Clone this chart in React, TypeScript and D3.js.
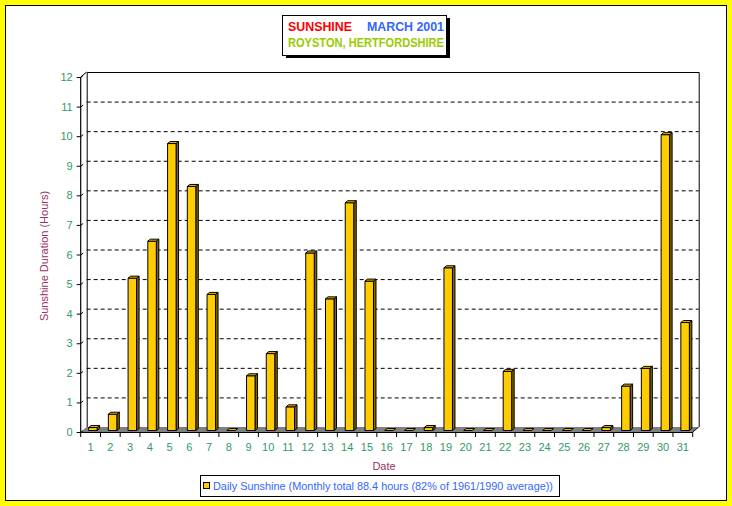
import React from "react";
import * as d3 from "d3";

const days = ["1","2","3","4","5","6","7","8","9","10","11","12","13","14","15","16","17","18","19","20","21","22","23","24","25","26","27","28","29","30","31"];
const sunshine = [0.1,0.55,5.15,6.4,9.7,8.25,4.6,0,1.85,2.6,0.8,6.0,4.45,7.7,5.05,0,0,0.1,5.5,0,0,2.0,0,0,0,0,0.1,1.5,2.1,10.0,3.65];
const yTicks = [0,1,2,3,4,5,6,7,8,9,10,11,12];
const titleLeft = "SUNSHINE";
const titleRight = "MARCH 2001";
const subtitle = "ROYSTON, HERTFORDSHIRE";
const yTitle = "Sunshine Duration (Hours)";
const xTitle = "Date";
const legendLabel = "Daily Sunshine (Monthly total 88.4 hours (82% of 1961/1990 average))";

const W = 732, H = 506;
const DX = 6, DY = 5; // wall depth
const FONT = "'Liberation Sans', Arial, sans-serif";

export default function App() {
  const x = d3.scaleBand<string>().domain(days).range([80.7, 692.7]);
  const y = d3.scaleLinear().domain([0, 12]).range([432, 77]);
  const x0 = x.range()[0], x1 = x.range()[1];
  const y0 = y(0), yT = y(12);

  const floor = `M${x0},${y0} L${x0 + DX},${y0 - DY} L${x1 + DX},${y0 - DY} L${x1},${y0} Z`;

  const bars = days.map((d, i) => {
    const v = sunshine[i];
    const l = (x(d) as number) + 6.4 + 1.5;
    const w = 8.5;
    const b = y(0) - 1.5;
    const t = y(v) - 1.5;
    const ddx = 2.5, ddy = 2;
    const front = `M${l},${t} L${l + w},${t} L${l + w},${b} L${l},${b} Z`;
    const side = `M${l + w},${t} L${l + w + ddx},${t - ddy} L${l + w + ddx},${b - ddy} L${l + w},${b} Z`;
    const top = `M${l},${t} L${l + ddx},${t - ddy} L${l + w + ddx},${t - ddy} L${l + w},${t} Z`;
    return (
      <g key={d}>
        {v > 0 && <path d={side} fill="#806600" stroke="#000" strokeWidth={1} />}
        {v > 0 && <path d={front} fill="#FFCC00" stroke="#000" strokeWidth={1} />}
        <path d={top} fill="#E6B800" stroke="#000" strokeWidth={1} />
      </g>
    );
  });

  return (
    <svg width={W} height={H} style={{ position: "absolute", left: 0, top: 0 }} fontFamily={FONT}>
      <rect x={0} y={0} width={W} height={H} fill="#FFFF00" />
      <rect x={5.5} y={5.5} width={721} height={495} fill="#FFFFFF" stroke="#000" strokeWidth={1} />

      {/* back wall gridlines */}
      {yTicks.filter(t => t > 0 && t < 12).map(t => (
        <line key={"g" + t} x1={x0 + DX} x2={x1 + DX} y1={y(t) - DY + 0.5} y2={y(t) - DY + 0.5}
          stroke="#000" strokeWidth={1} strokeDasharray="4,3" />
      ))}
      {/* floor */}
      <path d={floor} fill="#808080" stroke="none" />
      {/* walls outline */}
      <path d={`M${x0 + DX + 0.5},${y0 - DY} L${x0 + DX + 0.5},${yT - DY + 0.5} L${x1 + DX + 0.5},${yT - DY + 0.5} L${x1 + DX + 0.5},${y0 - DY}`}
        fill="none" stroke="#000" strokeWidth={1} />
      <line x1={x0} y1={yT} x2={x0 + DX} y2={yT - DY} stroke="#000" strokeWidth={1} />
      <line x1={x1} y1={y0} x2={x1 + DX} y2={y0 - DY} stroke="#000" strokeWidth={1} />
      {/* y axis */}
      <line x1={x0} x2={x0} y1={yT} y2={y0} stroke="#000" strokeWidth={1.2} />
      {yTicks.map(t => (
        <g key={"y" + t}>
          <line x1={x0 - 4} x2={x0} y1={y(t) + 0.5} y2={y(t) + 0.5} stroke="#000" strokeWidth={1} />
          <line x1={x0} x2={x0 + 2.5} y1={y(t) + 0.5} y2={y(t) - 1.5} stroke="#000" strokeWidth={1} />
          <text x={x0 - 8} y={y(t) + 4} textAnchor="end" fontSize={11} fill="#339966">{t}</text>
        </g>
      ))}
      {/* x axis */}
      <line x1={x0} x2={x1} y1={y0 + 0.5} y2={y0 + 0.5} stroke="#000" strokeWidth={1} />
      {[...days.map(d => x(d) as number), x1].map((p, i) => (
        <line key={"xt" + i} x1={p} x2={p} y1={y0} y2={y0 + 5} stroke="#000" strokeWidth={1} />
      ))}
      {days.map(d => (
        <text key={"xl" + d} x={(x(d) as number) + x.bandwidth() / 2} y={y0 + 19} textAnchor="middle" fontSize={11} fill="#339966">{d}</text>
      ))}

      {bars}

      {/* axis titles */}
      <text x={384} y={470} textAnchor="middle" fontSize={11} fill="#993366">{xTitle}</text>
      <text transform={`translate(48,256) rotate(-90)`} textAnchor="middle" fontSize={11} fill="#993366">{yTitle}</text>

      {/* title box */}
      <rect x={286} y={18} width={164} height={40} fill="#000" />
      <rect x={282.5} y={15.5} width={164} height={40} fill="#fff" stroke="#000" strokeWidth={1} />
      <text x={288} y={31} fontSize={12} fontWeight="bold" fill="#FF0000" textLength={64} lengthAdjust="spacingAndGlyphs">{titleLeft}</text>
      <text x={367} y={31} fontSize={12} fontWeight="bold" fill="#3366FF" textLength={77} lengthAdjust="spacingAndGlyphs">{titleRight}</text>
      <text x={288} y={47} fontSize={12} fontWeight="bold" fill="#99CC00" textLength={156} lengthAdjust="spacingAndGlyphs">{subtitle}</text>

      {/* legend */}
      <rect x={200.5} y={475.5} width={359} height={21} fill="#fff" stroke="#000" strokeWidth={1} />
      <rect x={203.5} y={482.5} width={6} height={6} fill="#FFCC00" stroke="#000" strokeWidth={1} />
      <text x={213} y={490} fontSize={11} fill="#3366FF" textLength={340} lengthAdjust="spacingAndGlyphs">{legendLabel}</text>
    </svg>
  );
}
